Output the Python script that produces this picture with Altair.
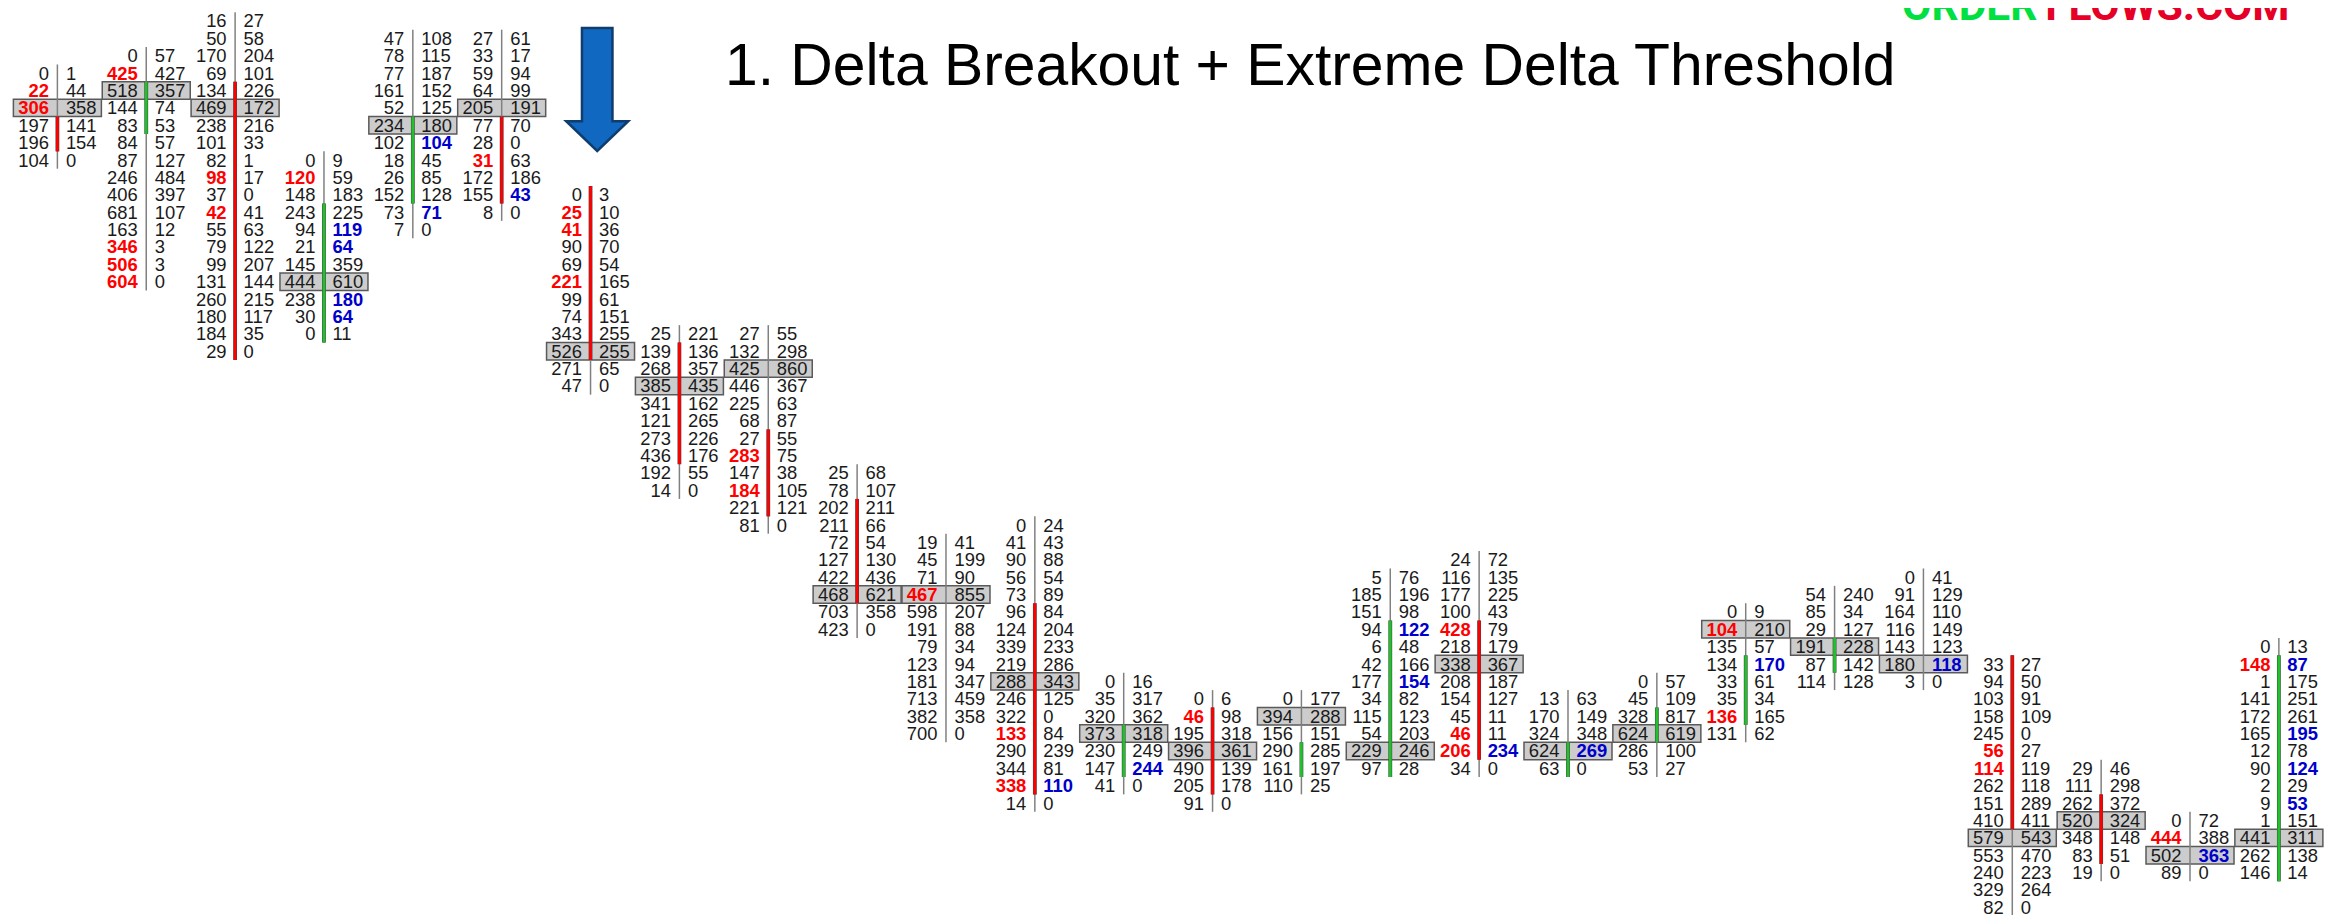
import altair as alt
import pandas as pd

# --- data -----------------------------------------------------------------
first_row = [3, 2, 0, 8, 1, 1, 10, 18, 18, 26, 30, 29, 38, 39, 39, 32, 31, 39, 38, 34, 33, 32, 37, 43, 46, 36]
poc_row = [5, 4, 5, 15, 6, 5, 19, 21, 20, 33, 33, 38, 41, 42, 40, 42, 37, 42, 41, 35, 36, 37, 47, 46, 48, 47]
body_top = [6, 4, 4, 11, 6, 6, 10, 19, 24, 28, None, 34, 41, 40, 42, 35, 35, 42, 40, 37, 36, None, 37, 45, None, 37]
body_bot = [7, 6, 19, 18, 10, 10, 19, 25, 28, 33, None, 44, 43, 44, 43, 43, 42, 43, 41, 40, 37, None, 46, 48, None, 49]
body_kind = ["r", "g", "r", "g", "g", "r", "r", "r", "r", "r", None, "r", "g", "r", "g", "g", "r", "g", "g", "g", "g", None, "r", "r", None, "g"]

bids = [
    [0, 22, 306, 197, 196, 104],
    [0, 425, 518, 144, 83, 84, 87, 246, 406, 681, 163, 346, 506, 604],
    [16, 50, 170, 69, 134, 469, 238, 101, 82, 98, 37, 42, 55, 79, 99, 131, 260, 180, 184, 29],
    [0, 120, 148, 243, 94, 21, 145, 444, 238, 30, 0],
    [47, 78, 77, 161, 52, 234, 102, 18, 26, 152, 73, 7],
    [27, 33, 59, 64, 205, 77, 28, 31, 172, 155, 8],
    [0, 25, 41, 90, 69, 221, 99, 74, 343, 526, 271, 47],
    [25, 139, 268, 385, 341, 121, 273, 436, 192, 14],
    [27, 132, 425, 446, 225, 68, 27, 283, 147, 184, 221, 81],
    [25, 78, 202, 211, 72, 127, 422, 468, 703, 423],
    [19, 45, 71, 467, 598, 191, 79, 123, 181, 713, 382, 700],
    [0, 41, 90, 56, 73, 96, 124, 339, 219, 288, 246, 322, 133, 290, 344, 338, 14],
    [0, 35, 320, 373, 230, 147, 41],
    [0, 46, 195, 396, 490, 205, 91],
    [0, 394, 156, 290, 161, 110],
    [5, 185, 151, 94, 6, 42, 177, 34, 115, 54, 229, 97],
    [24, 116, 177, 100, 428, 218, 338, 208, 154, 45, 46, 206, 34],
    [13, 170, 324, 624, 63],
    [0, 45, 328, 624, 286, 53],
    [0, 104, 135, 134, 33, 35, 136, 131],
    [54, 85, 29, 191, 87, 114],
    [0, 91, 164, 116, 143, 180, 3],
    [33, 94, 103, 158, 245, 56, 114, 262, 151, 410, 579, 553, 240, 329, 82],
    [29, 111, 262, 520, 348, 83, 19],
    [0, 444, 502, 89],
    [0, 148, 1, 141, 172, 165, 12, 90, 2, 9, 1, 441, 262, 146],
]
asks = [
    [1, 44, 358, 141, 154, 0],
    [57, 427, 357, 74, 53, 57, 127, 484, 397, 107, 12, 3, 3, 0],
    [27, 58, 204, 101, 226, 172, 216, 33, 1, 17, 0, 41, 63, 122, 207, 144, 215, 117, 35, 0],
    [9, 59, 183, 225, 119, 64, 359, 610, 180, 64, 11],
    [108, 115, 187, 152, 125, 180, 104, 45, 85, 128, 71, 0],
    [61, 17, 94, 99, 191, 70, 0, 63, 186, 43, 0],
    [3, 10, 36, 70, 54, 165, 61, 151, 255, 255, 65, 0],
    [221, 136, 357, 435, 162, 265, 226, 176, 55, 0],
    [55, 298, 860, 367, 63, 87, 55, 75, 38, 105, 121, 0],
    [68, 107, 211, 66, 54, 130, 436, 621, 358, 0],
    [41, 199, 90, 855, 207, 88, 34, 94, 347, 459, 358, 0],
    [24, 43, 88, 54, 89, 84, 204, 233, 286, 343, 125, 0, 84, 239, 81, 110, 0],
    [16, 317, 362, 318, 249, 244, 0],
    [6, 98, 318, 361, 139, 178, 0],
    [177, 288, 151, 285, 197, 25],
    [76, 196, 98, 122, 48, 166, 154, 82, 123, 203, 246, 28],
    [72, 135, 225, 43, 79, 179, 367, 187, 127, 11, 11, 234, 0],
    [63, 149, 348, 269, 0],
    [57, 109, 817, 619, 100, 27],
    [9, 210, 57, 170, 61, 34, 165, 62],
    [240, 34, 127, 228, 142, 128],
    [41, 129, 110, 149, 123, 118, 0],
    [27, 50, 91, 109, 0, 27, 119, 118, 289, 411, 543, 470, 223, 264, 0],
    [46, 298, 372, 324, 148, 51, 0],
    [72, 388, 363, 0],
    [13, 87, 175, 251, 261, 195, 78, 124, 29, 53, 151, 311, 138, 14],
]
red_bids = [
    [22, 306], [425, 346, 506, 604], [98, 42], [120], [], [31], [25, 41, 221], [], [283, 184], [],
    [467], [133, 338], [], [46], [], [], [428, 46, 206], [], [], [104, 136], [], [], [56, 114], [], [444], [148],
]
blue_asks = [
    [], [], [], [119, 180, 64], [104, 71], [43], [], [], [], [],
    [], [110], [244], [], [], [122, 154], [234], [269], [], [170], [], [118], [], [], [363], [87, 195, 124, 53],
]
title_text = ["1. Delta Breakout + Extreme Delta Threshold"]
logo_green = ["ORDER"]
logo_red = ["FLOWS.COM"]

# --- tables built from those lists ----------------------------------------
cells, wicks, bodies, pocs = [], [], [], []
for i, (bid, ask) in enumerate(zip(bids, asks)):
    top = first_row[i]
    for j, (b, a) in enumerate(zip(bid, ask)):
        row = top + j
        cells.append(dict(col=i, row=row, side="bid", text=str(b), strong=b in red_bids[i], color="#ff0000" if b in red_bids[i] else "#1a1a1a"))
        cells.append(dict(col=i, row=row, side="ask", text=str(a), strong=a in blue_asks[i], color="#0000cc" if a in blue_asks[i] else "#1a1a1a"))
    wicks.append(dict(col=i, y=top - 0.5, y2=top + len(bid) - 0.5))
    pocs.append(dict(col=i, row=poc_row[i]))
    if body_kind[i]:
        bodies.append(dict(col=i, y=body_top[i] - 0.5, y2=body_bot[i] + 0.5, color="#ff0000" if body_kind[i] == "r" else "#22c02c"))
cells = pd.DataFrame(cells)

W, H = 2327, 907
x_scale = alt.Scale(domain=[-0.5558, 25.6317], nice=False, zero=False)
y_scale = alt.Scale(domain=[51.44, -0.748], nice=False, zero=False)
X = alt.X("col:Q", scale=x_scale, axis=None)
Y = alt.Y("row:Q", scale=y_scale, axis=None)

poc_layer = alt.Chart(pd.DataFrame(pocs)).mark_rect(width=88, height=17.4, fill="#cccccc", stroke="#5a5a5a", strokeWidth=1.5).encode(x=X, y=Y)
wick_layer = alt.Chart(pd.DataFrame(wicks)).mark_rule(color="#808080", strokeWidth=1.5).encode(
    x=X, y=alt.Y("y:Q", scale=y_scale, axis=None), y2="y2:Q")
body_edge = alt.Chart(pd.DataFrame(bodies)).mark_rule(color="#444444", strokeWidth=3.8).encode(
    x=X, y=alt.Y("y:Q", scale=y_scale, axis=None), y2="y2:Q")
body_fill = alt.Chart(pd.DataFrame(bodies)).mark_rule(strokeWidth=2.8).encode(
    x=X, y=alt.Y("y:Q", scale=y_scale, axis=None), y2="y2:Q", color=alt.Color("color:N", scale=None))


def text_layer(side, strong):
    data = cells[(cells.side == side) & (cells.strong == strong)]
    return alt.Chart(data).mark_text(
        font="Liberation Sans", fontSize=18.4, fontWeight="bold" if strong else "normal",
        align="right" if side == "bid" else "left", baseline="middle",
        dx=-8.5 if side == "bid" else 8.5, dy=0.5,
    ).encode(x=X, y=Y, text="text:N", color=alt.Color("color:N", scale=None))


arrow_path = "M-0.248,-1 L0.248,-1 L0.248,0.515 L0.504,0.515 L0,1 L-0.504,0.515 L-0.248,0.515 Z"
arrow = alt.Chart(pd.DataFrame(dict(col=[6.075], row=[3.94]))).mark_point(
    shape=arrow_path, size=15129, filled=True, fill="#1068c0", stroke="#0f3d6e", strokeWidth=2.5, opacity=1
).encode(x=X, y=Y)

title = alt.Chart(pd.DataFrame(dict(col=[7.513], row=[3.66], t=title_text))).mark_text(
    font="Liberation Sans", fontSize=58.8, align="left", baseline="alphabetic", color="#000000"
).encode(x=X, y=Y, text="t:N")

logo1 = alt.Chart(pd.DataFrame(dict(col=[20.76], row=[-0.06], t=logo_green))).mark_text(
    font="Roboto", fontWeight="bold", fontSize=42.5, align="left", baseline="alphabetic", color="#00e040"
).encode(x=X, y=Y, text="t:N")
logo2 = alt.Chart(pd.DataFrame(dict(col=[22.37], row=[-0.06], t=logo_red))).mark_text(
    font="Roboto", fontWeight="bold", fontSize=42.5, align="left", baseline="alphabetic", color="#e60026"
).encode(x=X, y=Y, text="t:N")

chart = alt.layer(
    poc_layer, wick_layer, body_edge, body_fill,
    text_layer("bid", False), text_layer("ask", False), text_layer("bid", True), text_layer("ask", True),
    arrow, title, logo1, logo2,
).properties(width=W, height=H, padding=0, autosize=alt.AutoSizeParams(type="none")
).configure_view(stroke=None)

chart.save("out.html", embed_options={"renderer": "svg", "actions": False})
